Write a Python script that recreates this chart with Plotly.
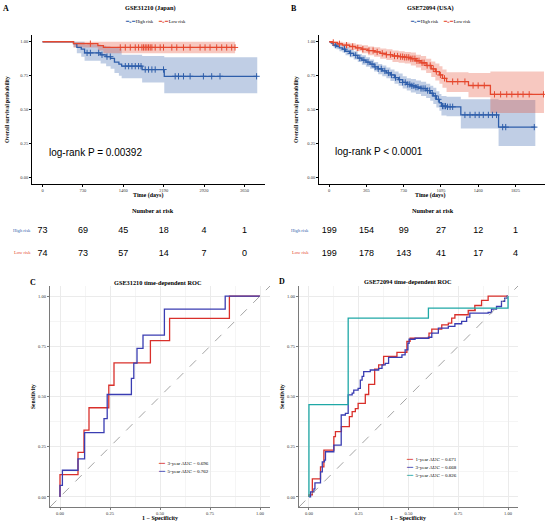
import numpy as np
import plotly.graph_objects as go

# ---------- KM data: GSE31210 (Japan) ----------
a_high_t = [0, 560, 620, 700, 760, 1050, 1150, 1230, 1300, 1380, 1430, 1800, 2200, 3880]
a_high_s = [1.0, 0.986, 0.959, 0.945, 0.918, 0.904, 0.89, 0.877, 0.85, 0.835, 0.82, 0.795, 0.745, 0.745]
a_high_lo = [1.0, 0.96, 0.915, 0.89, 0.86, 0.84, 0.82, 0.80, 0.77, 0.75, 0.73, 0.70, 0.62, 0.62]
a_high_up = [1.0, 1.0, 1.0, 1.0, 0.98, 0.97, 0.965, 0.96, 0.955, 0.95, 0.905, 0.895, 0.885, 0.885]
a_high_cens = [805, 865, 1015, 1075, 1165, 1225, 1496, 1556, 1616, 1676, 1736, 1780, 1856, 1916,
               1976, 2036, 2186, 2397, 2457, 2547, 2667, 2907, 3057, 3207, 3868]

a_low_t = [0, 560, 1000, 1100, 3480]
a_low_s = [1.0, 0.986, 0.972, 0.958, 0.958]
a_low_lo = [1.0, 0.958, 0.935, 0.915, 0.915]
a_low_up = [1.0, 1.0, 1.0, 1.0, 1.0]
a_low_cens = [865, 1405, 1496, 1586, 1676, 1736, 1796, 1826, 1856, 1886, 1916, 1946, 1976, 2036,
              2126, 2186, 2336, 2426, 2547, 2667, 2847, 2937, 3027, 3147, 3238, 3328, 3418, 3478]

# ---------- KM data: GSE72094 (USA) ----------
b_high_t = [0, 20, 40, 70, 100, 130, 160, 200, 240, 280, 320, 360, 400, 440, 480, 520, 560, 600,
            640, 680, 720, 760, 800, 850, 900, 950, 990, 1020, 1050, 1080, 1100, 1150, 1290, 1660, 2020]
b_high_s = [1.0, 0.99, 0.975, 0.965, 0.955, 0.945, 0.93, 0.915, 0.90, 0.88, 0.865, 0.85, 0.835, 0.815,
            0.80, 0.785, 0.77, 0.755, 0.735, 0.72, 0.70, 0.685, 0.675, 0.665, 0.655, 0.64, 0.62, 0.60,
            0.575, 0.55, 0.525, 0.52, 0.46, 0.37, 0.37]
b_high_lo = [1.0, 0.98, 0.96, 0.945, 0.93, 0.92, 0.90, 0.885, 0.87, 0.85, 0.83, 0.815, 0.80, 0.78,
             0.76, 0.745, 0.73, 0.71, 0.69, 0.675, 0.655, 0.64, 0.625, 0.615, 0.60, 0.585, 0.565, 0.54,
             0.515, 0.49, 0.455, 0.45, 0.36, 0.23, 0.23]
b_high_up = [1.0, 1.0, 0.99, 0.985, 0.98, 0.97, 0.96, 0.945, 0.93, 0.91, 0.90, 0.885, 0.87, 0.85,
             0.835, 0.825, 0.81, 0.795, 0.78, 0.765, 0.745, 0.73, 0.725, 0.715, 0.705, 0.69, 0.675, 0.66,
             0.635, 0.615, 0.60, 0.595, 0.575, 0.57, 0.57]
b_high_cens = [60, 150, 210, 260, 300, 340, 380, 420, 450, 480, 510, 545, 580, 610, 650, 690, 720, 745,
               770, 790, 810, 830, 850, 870, 900, 920, 940, 965, 985, 1010, 1040, 1070, 1110, 1125, 1140,
               1160, 1185, 1210, 1330, 1380, 1430, 1470, 1510, 1560, 1600, 1640, 1700, 1730, 2010]

b_low_t = [0, 30, 80, 130, 200, 260, 320, 380, 440, 500, 560, 620, 680, 740, 800, 850, 900, 950,
           1000, 1040, 1080, 1110, 1150, 1365, 1580, 2105]
b_low_s = [1.0, 0.995, 0.985, 0.975, 0.965, 0.955, 0.945, 0.935, 0.925, 0.915, 0.905, 0.895, 0.89,
           0.885, 0.875, 0.86, 0.845, 0.825, 0.80, 0.78, 0.755, 0.73, 0.706, 0.677, 0.612, 0.612]
b_low_lo = [1.0, 0.985, 0.97, 0.955, 0.94, 0.93, 0.915, 0.90, 0.89, 0.875, 0.865, 0.85, 0.845, 0.84,
            0.825, 0.81, 0.79, 0.77, 0.74, 0.715, 0.69, 0.66, 0.63, 0.59, 0.475, 0.475]
b_low_up = [1.0, 1.0, 1.0, 0.995, 0.99, 0.98, 0.975, 0.965, 0.96, 0.95, 0.945, 0.935, 0.93, 0.925,
            0.92, 0.905, 0.895, 0.875, 0.855, 0.84, 0.82, 0.795, 0.775, 0.77, 0.78, 0.78]
b_low_cens = [40, 100, 170, 230, 280, 330, 390, 430, 470, 520, 560, 600, 640, 670, 700, 720, 740, 760,
              780, 800, 820, 840, 860, 880, 910, 930, 960, 990, 1020, 1050, 1090, 1130, 1210, 1260,
              1330, 1410, 1460, 1520, 1620, 1680, 1740, 1790, 1850, 1900, 1960, 2100]

# ---------- number at risk ----------
a_risk_t = [0, 730, 1460, 2190, 2920, 3650]
a_risk_high = [73, 69, 45, 18, 4, 1]
a_risk_low = [74, 73, 57, 14, 7, 0]
b_risk_t = [0, 365, 730, 1095, 1460, 1825]
b_risk_high = [199, 154, 99, 27, 12, 1]
b_risk_low = [199, 178, 143, 41, 17, 4]

# ---------- ROC data ----------
c3_fpr = [0, 0, 0.09, 0.12, 0.145, 0.244, 0.27, 0.452, 0.548, 0.847, 1.0]
c3_tpr = [0, 0.111, 0.222, 0.333, 0.444, 0.556, 0.667, 0.778, 0.889, 1.0, 1.0]
c5_fpr = [0, 0, 0.012, 0.09, 0.123, 0.22, 0.236, 0.357, 0.369, 0.385, 0.415, 0.522, 0.826, 1.0]
c5_tpr = [0, 0.058, 0.133, 0.19, 0.32, 0.39, 0.51, 0.59, 0.666, 0.74, 0.805, 0.935, 1.0, 1.0]

d1_fpr = [0, 0, 0.017, 0.05, 0.058, 0.075, 0.117, 0.125, 0.133, 0.158, 0.163, 0.2, 0.203, 0.217,
          0.233, 0.247, 0.27, 0.283, 0.30, 0.317, 0.33, 0.35, 0.375, 0.433, 0.442, 0.483, 0.492,
          0.508, 0.6, 0.603, 0.617, 0.658, 0.667, 0.70, 0.717, 0.733, 0.79, 0.80, 0.835, 0.833,
          0.867, 0.9, 1.0]
d1_tpr = [0, 0.01, 0.09, 0.09, 0.15, 0.233, 0.233, 0.30, 0.325, 0.325, 0.35, 0.35, 0.40, 0.425,
          0.44, 0.466, 0.466, 0.51, 0.56, 0.56, 0.636, 0.657, 0.70, 0.70, 0.72, 0.72, 0.774, 0.79,
          0.79, 0.815, 0.835, 0.835, 0.857, 0.865, 0.89, 0.907, 0.907, 0.928, 0.935, 0.953, 0.978,
          1.0, 1.0]
d3_fpr = [0, 0.008, 0.025, 0.03, 0.053, 0.058, 0.067, 0.078, 0.083, 0.117, 0.125, 0.158, 0.162,
          0.183, 0.197, 0.217, 0.225, 0.247, 0.258, 0.267, 0.275, 0.308, 0.35, 0.367, 0.383, 0.40,
          0.467, 0.483, 0.497, 0.503, 0.533, 0.6, 0.617, 0.65, 0.70, 0.733, 0.767, 0.792, 0.808,
          0.90, 0.917, 0.942, 0.967, 0.983, 0.995, 1.0]
d3_tpr = [0, 0.025, 0.04, 0.07, 0.07, 0.125, 0.175, 0.183, 0.225, 0.225, 0.258, 0.258, 0.408,
          0.416, 0.508, 0.517, 0.532, 0.54, 0.582, 0.60, 0.624, 0.632, 0.64, 0.657, 0.665, 0.695,
          0.707, 0.732, 0.765, 0.785, 0.79, 0.795, 0.815, 0.84, 0.849, 0.862, 0.874, 0.895, 0.915,
          0.918, 0.935, 0.948, 0.973, 0.99, 1.0, 1.0]
d5_fpr = [0, 0, 0.197, 0.6, 1.0]
d5_tpr = [0, 0.46, 0.89, 0.94, 1.0]

# ---------- styling ----------
W, H = 550, 525
BLUE = "#2E5EAA"
RED = "#E5482F"
BLUE_F = "rgba(46,94,170,0.30)"
RED_F = "rgba(229,72,47,0.30)"
ROC_RED = "#D9302B"
ROC_BLUE = "#3A3DB2"
ROC_TEAL = "#1FA8A6"
SERIF = "Liberation Serif"
SANS = "Liberation Sans"


def px(x):
    return x / W


def py(y):
    return 1 - y / H


def step_at(times, vals, q):
    idx = np.searchsorted(np.array(times), np.array(q), side="right") - 1
    return np.array(vals)[idx]


fig = go.Figure()


def add_km(xa, ya, t, lo, up, fillcol):
    fig.add_trace(go.Scatter(x=t, y=lo, mode="lines", line=dict(width=0, shape="hv"),
                             xaxis=xa, yaxis=ya, showlegend=False, hoverinfo="skip"))
    fig.add_trace(go.Scatter(x=t, y=up, mode="lines", line=dict(width=0, shape="hv"),
                             fill="tonexty", fillcolor=fillcol,
                             xaxis=xa, yaxis=ya, showlegend=False, hoverinfo="skip"))


def add_km_line(xa, ya, t, s, cens, col):
    fig.add_trace(go.Scatter(x=t, y=s, mode="lines", line=dict(color=col, width=1.3, shape="hv"),
                             xaxis=xa, yaxis=ya, showlegend=False))
    fig.add_trace(go.Scatter(x=cens, y=step_at(t, s, cens), mode="markers",
                             marker=dict(symbol="cross-thin", size=4.5, line=dict(color=col, width=1)),
                             xaxis=xa, yaxis=ya, showlegend=False))


add_km("x", "y", a_high_t, a_high_lo, a_high_up, BLUE_F)
add_km("x", "y", a_low_t, a_low_lo, a_low_up, RED_F)
add_km_line("x", "y", a_high_t, a_high_s, a_high_cens, BLUE)
add_km_line("x", "y", a_low_t, a_low_s, a_low_cens, RED)
add_km("x2", "y2", b_high_t, b_high_lo, b_high_up, BLUE_F)
add_km("x2", "y2", b_low_t, b_low_lo, b_low_up, RED_F)
add_km_line("x2", "y2", b_high_t, b_high_s, b_high_cens, BLUE)
add_km_line("x2", "y2", b_low_t, b_low_s, b_low_cens, RED)

# risk tables
for xa, ya, t, hi, lo in [("x3", "y3", a_risk_t, a_risk_high, a_risk_low),
                          ("x4", "y4", b_risk_t, b_risk_high, b_risk_low)]:
    fig.add_trace(go.Scatter(x=t, y=[0.75] * len(t), mode="text", text=[str(v) for v in hi],
                             textfont=dict(family=SANS, size=9, color="black"),
                             xaxis=xa, yaxis=ya, showlegend=False))
    fig.add_trace(go.Scatter(x=t, y=[0.2] * len(t), mode="text", text=[str(v) for v in lo],
                             textfont=dict(family=SANS, size=9, color="black"),
                             xaxis=xa, yaxis=ya, showlegend=False))

# ROC curves
for xa, ya, fx, ty, col in [("x5", "y5", c3_fpr, c3_tpr, ROC_RED),
                            ("x5", "y5", c5_fpr, c5_tpr, ROC_BLUE),
                            ("x6", "y6", d1_fpr, d1_tpr, ROC_RED),
                            ("x6", "y6", d3_fpr, d3_tpr, ROC_BLUE),
                            ("x6", "y6", d5_fpr, d5_tpr, ROC_TEAL)]:
    fig.add_trace(go.Scatter(x=fx, y=ty, mode="lines", line=dict(color=col, width=1.3, shape="hv"),
                             xaxis=xa, yaxis=ya, showlegend=False))

tickfont = dict(family=SERIF, size=4.5, color="#333")
km_axis = dict(showline=True, linecolor="black", linewidth=0.8, ticks="outside", ticklen=2,
               tickwidth=0.6, tickcolor="black", showgrid=False, zeroline=False, tickfont=tickfont)
roc_axis = dict(showline=True, linecolor="#7A7A7A", linewidth=1.4, ticks="outside", ticklen=2,
                tickwidth=0.8, tickcolor="#7A7A7A", showgrid=True, gridcolor="#EBEBEB", gridwidth=0.5,
                minor=dict(showgrid=True, gridcolor="#F5F5F5", gridwidth=0.4, dtick=0.125),
                zeroline=False, tickfont=tickfont, range=[-0.05, 1.05],
                tickvals=[0, 0.25, 0.5, 0.75, 1.0], tickformat=".2f")
blank = dict(visible=False, showgrid=False, zeroline=False)

km_y = [py(184), py(35)]
risk_y = [py(262), py(220)]
roc_y = [py(507), py(286)]

fig.update_layout(
    width=W, height=H, margin=dict(l=0, r=0, t=0, b=0),
    paper_bgcolor="white", plot_bgcolor="white", showlegend=False,
    xaxis=dict(km_axis, domain=[px(32), px(265)], range=[-190, 4020], tickvals=a_risk_t, anchor="y"),
    yaxis=dict(km_axis, domain=km_y, range=[-0.05, 1.05], tickvals=[0, 0.25, 0.5, 0.75, 1.0],
               tickformat=".2f", anchor="x"),
    xaxis2=dict(km_axis, domain=[px(319), px(545)], range=[-100, 2115], tickvals=b_risk_t, anchor="y2"),
    yaxis2=dict(km_axis, domain=km_y, range=[-0.05, 1.05], tickvals=[0, 0.25, 0.5, 0.75, 1.0],
                tickformat=".2f", anchor="x2"),
    xaxis3=dict(blank, domain=[px(32), px(265)], range=[-190, 4020], anchor="y3"),
    yaxis3=dict(blank, domain=risk_y, range=[0, 1], anchor="x3"),
    xaxis4=dict(blank, domain=[px(319), px(545)], range=[-100, 2115], anchor="y4"),
    yaxis4=dict(blank, domain=risk_y, range=[0, 1], anchor="x4"),
    xaxis5=dict(roc_axis, domain=[px(50), px(270)], anchor="y5", ticklabelstandoff=-1),
    yaxis5=dict(roc_axis, domain=roc_y, anchor="x5"),
    xaxis6=dict(roc_axis, domain=[px(299), px(518)], anchor="y6", ticklabelstandoff=-1),
    yaxis6=dict(roc_axis, domain=roc_y, anchor="x6"),
)

# diagonal reference lines
for ax in ["5", "6"]:
    fig.add_shape(type="line", xref="x%s domain" % ax, yref="y%s domain" % ax,
                  x0=0, y0=0, x1=1, y1=1, line=dict(color="#9A9A9A", width=0.9, dash="dash"))

ann = []


def txt(x, y, s, size, family=SERIF, color="black", bold=False, xanchor="center", angle=0):
    ann.append(dict(x=px(x), y=py(y), xref="paper", yref="paper", showarrow=False,
                    text="<b>%s</b>" % s if bold else s, xanchor=xanchor, yanchor="middle",
                    textangle=angle, font=dict(family=family, size=size, color=color)))


# panel letters & titles
txt(6, 8, "A", 8, bold=True)
txt(294, 8, "B", 8, bold=True)
txt(33, 282, "C", 8, bold=True)
txt(282, 281, "D", 8, bold=True)
txt(150, 8, "GSE31210 (Japan)", 6.3, bold=True)
txt(430, 8, "GSE72094 (USA)", 6.3, bold=True)
txt(158, 282, "GSE31210 time-dependent ROC", 6.3, bold=True)
txt(408, 281, "GSE72094 time-dependent ROC", 6.3, bold=True)

# KM axis titles
txt(7, 110, "Overall survival probability", 5.6, bold=True, angle=-90)
txt(296, 110, "Overall survival probability", 5.6, bold=True, angle=-90)
txt(148, 195, "Time (days)", 6, bold=True)
txt(430, 195, "Time (days)", 6, bold=True)
txt(47, 152, "log-rank P = 0.00392", 10, family=SANS, xanchor="left")
txt(333, 151, "log-rank P &lt; 0.0001", 10, family=SANS, xanchor="left")

# KM legends
for cx in [123, 408]:
    txt(cx, 22, "<span style='color:%s'><b>━+━</b></span> High risk" % BLUE, 4.6, xanchor="left")
    txt(cx + 33, 22, "<span style='color:%s'><b>━+━</b></span> Low risk" % RED, 4.6, xanchor="left")

# risk table labels
txt(153, 210, "Number at risk", 6.3, bold=True)
txt(433, 210, "Number at risk", 6.3, bold=True)
for lx in [22, 300]:
    txt(lx, 230, "High risk", 4.6, color=BLUE)
    txt(lx, 253, "Low risk", 4.6, color=RED)

# ROC axis titles
txt(33, 397, "Sensitivity", 5.6, bold=True, angle=-90)
txt(282, 397, "Sensitivity", 5.6, bold=True, angle=-90)
txt(160, 518, "1 − Specificity", 6, bold=True)
txt(408, 518, "1 − Specificity", 6, bold=True)

# ROC legends
txt(156, 463, "<span style='color:%s'>━━</span>  3-year AUC = 0.696" % ROC_RED, 5, xanchor="left")
txt(156, 471, "<span style='color:%s'>━━</span>  5-year AUC = 0.762" % ROC_BLUE, 5, xanchor="left")
txt(404, 459, "<span style='color:%s'>━━</span>  1-year AUC = 0.671" % ROC_RED, 5, xanchor="left")
txt(404, 467, "<span style='color:%s'>━━</span>  3-year AUC = 0.668" % ROC_BLUE, 5, xanchor="left")
txt(404, 475, "<span style='color:%s'>━━</span>  5-year AUC = 0.826" % ROC_TEAL, 5, xanchor="left")

fig.update_layout(annotations=ann)
fig.write_html("out.html", config={"displayModeBar": False},
               post_script="document.body.style.margin='0px';")
